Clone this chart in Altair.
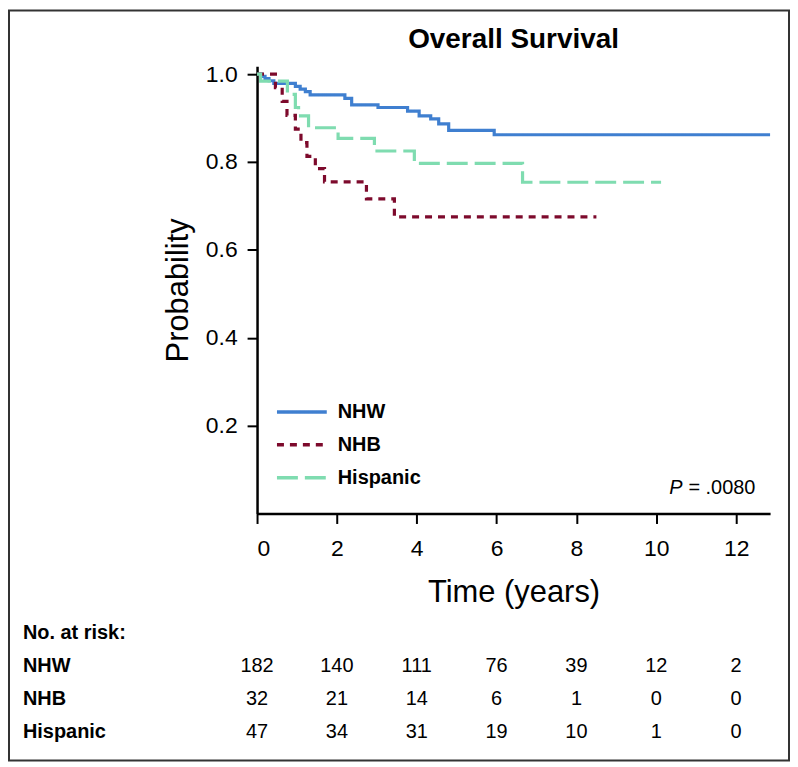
import altair as alt
import pandas as pd

# ---------------- data ----------------
groups = ["NHW", "NHB", "Hispanic"]

nhw_t = [0, 0.12, 0.2, 0.3, 0.42, 0.96, 1.08, 1.21, 1.33, 2.2, 2.37, 3.03, 3.77, 4.06, 4.35, 4.55, 4.8, 5.94, 12.85]
nhw_s = [1.0, 0.995, 0.99, 0.985, 0.979, 0.972, 0.966, 0.96, 0.953, 0.945, 0.93, 0.924, 0.916, 0.905, 0.898, 0.887, 0.872, 0.862, 0.862]

nhb_t = [0, 0.46, 0.63, 0.75, 0.96, 1.1, 1.25, 1.46, 1.69, 2.74, 3.44, 8.5]
nhb_s = [1.0, 0.969, 0.938, 0.906, 0.875, 0.844, 0.813, 0.785, 0.755, 0.716, 0.675, 0.675]

hisp_t = [0, 0.09, 0.76, 0.96, 1.04, 1.29, 2.03, 2.94, 3.94, 6.65, 10.12]
hisp_s = [1.0, 0.984, 0.954, 0.924, 0.905, 0.878, 0.854, 0.825, 0.797, 0.754, 0.754]

x_ticks = [0, 2, 4, 6, 8, 10, 12]
y_ticks = [0.2, 0.4, 0.6, 0.8, 1.0]

risk_nhw = [182, 140, 111, 76, 39, 12, 2]
risk_nhb = [32, 21, 14, 6, 1, 0, 0]
risk_hisp = [47, 34, 31, 19, 10, 1, 0]

title_text = "Overall Survival"
p_label = "P"
p_value = "= .0080"
risk_title = "No. at risk:"

# ---------------- styles / layout ----------------
colors = ["#3f7fd0", "#7d0a2c", "#7fdcb0"]
dashes = [[1, 0], [7, 6], [21, 7]]
FONT = "Liberation Sans"

W, H = 515, 449          # plot area
PAD_L, PAD_T = 250, 57
TOTAL_W, TOTAL_H = 785, 756

legend_y = [347, 380, 413]
row_y = [602, 635, 668]

curves = pd.concat([
    pd.DataFrame({"group": g, "t": t, "s": s, "i": range(len(t))})
    for g, t, s in [("NHW", nhw_t, nhw_s), ("NHB", nhb_t, nhb_s), ("Hispanic", hisp_t, hisp_s)]
])

one = pd.DataFrame({"a": [0]})

x_enc = alt.X(
    "t:Q",
    scale=alt.Scale(domain=[0, 12.85], nice=False, zero=False),
    axis=alt.Axis(
        values=x_ticks, format="d", title="Time (years)",
        labelFontSize=23, labelFont=FONT, labelColor="black", labelPadding=14,
        tickSize=10, tickWidth=2, tickColor="black",
        domainColor="black", domainWidth=2.5, grid=False,
        titleFontSize=31, titleFont=FONT, titleFontWeight="normal", titleColor="black",
        titleY=88, titleBaseline="alphabetic",
    ),
)
y_enc = alt.Y(
    "s:Q",
    scale=alt.Scale(domain=[0, 1.018], nice=False, zero=False),
    axis=alt.Axis(
        values=y_ticks, format=".1f", title="Probability",
        labelFontSize=23, labelFont=FONT, labelColor="black", labelPadding=10,
        tickSize=10, tickWidth=2, tickColor="black",
        domainColor="black", domainWidth=2.5, grid=False,
        titleFontSize=31, titleFont=FONT, titleFontWeight="normal", titleColor="black",
        titleX=-79, titleY=224.5, titleAngle=270, titleAlign="center", titleBaseline="middle",
    ),
)

lines = alt.Chart(curves).mark_line(interpolate="step-after", strokeWidth=3.2).encode(
    x=x_enc,
    y=y_enc,
    color=alt.Color("group:N", scale=alt.Scale(domain=groups, range=colors), legend=None),
    strokeDash=alt.StrokeDash("group:N", scale=alt.Scale(domain=groups, range=dashes), legend=None),
    order="i:Q",
)

layers = [lines]

# frame around figure
layers.append(
    alt.Chart(one).mark_rect(fill="transparent", stroke="#333333", strokeWidth=2).encode(
        x=alt.value(-249), x2=alt.value(534), y=alt.value(-56), y2=alt.value(697)
    )
)

# title
layers.append(
    alt.Chart(one).mark_text(font=FONT, fontSize=28, fontWeight="bold", align="center",
                             baseline="alphabetic", color="black").encode(
        x=alt.value(W / 2), y=alt.value(-18), text=alt.value(title_text)
    )
)

# legend
for g, c, d, ly in zip(groups, colors, dashes, legend_y):
    layers.append(
        alt.Chart(one).mark_rule(color=c, strokeDash=d, strokeWidth=3.5).encode(
            x=alt.value(20), x2=alt.value(70), y=alt.value(ly)
        )
    )
    layers.append(
        alt.Chart(one).mark_text(font=FONT, fontSize=20, fontWeight="bold", align="left",
                                 baseline="middle", color="black").encode(
            x=alt.value(81), y=alt.value(ly), text=alt.value(g)
        )
    )

# P value
layers.append(
    alt.Chart(one).mark_text(font=FONT, fontSize=20, fontStyle="italic", align="right",
                             baseline="middle", color="black").encode(
        x=alt.value(427), y=alt.value(423), text=alt.value(p_label)
    )
)
layers.append(
    alt.Chart(one).mark_text(font=FONT, fontSize=20, align="left",
                             baseline="middle", color="black").encode(
        x=alt.value(433), y=alt.value(423), text=alt.value(p_value)
    )
)

# at-risk table
layers.append(
    alt.Chart(one).mark_text(font=FONT, fontSize=20, fontWeight="bold", align="left",
                             baseline="middle", color="black").encode(
        x=alt.value(-235), y=alt.value(569), text=alt.value(risk_title)
    )
)
for g, risk, ry in zip(groups, [risk_nhw, risk_nhb, risk_hisp], row_y):
    layers.append(
        alt.Chart(one).mark_text(font=FONT, fontSize=20, fontWeight="bold", align="left",
                                 baseline="middle", color="black").encode(
            x=alt.value(-235), y=alt.value(ry), text=alt.value(g)
        )
    )
    layers.append(
        alt.Chart(pd.DataFrame({"t": x_ticks, "n": risk})).mark_text(
            font=FONT, fontSize=20, align="center", baseline="middle", color="black"
        ).encode(
            x=alt.X("t:Q"), y=alt.value(ry), text="n:Q"
        )
    )

chart = alt.layer(*layers).properties(
    width=W, height=H,
    autosize=alt.AutoSizeParams(type="none"),
    padding={"left": PAD_L, "top": PAD_T, "right": TOTAL_W - PAD_L - W, "bottom": TOTAL_H - PAD_T - H},
    background="white",
).configure_view(strokeWidth=0)

chart.save("out.html", embed_options={"renderer": "svg", "actions": False})
